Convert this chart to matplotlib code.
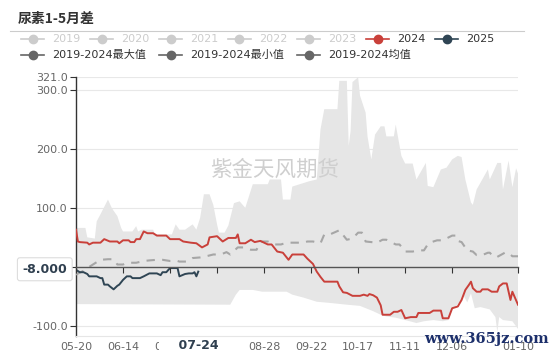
import matplotlib

matplotlib.use("Agg")
import matplotlib.pyplot as plt
import numpy as np
from matplotlib.lines import Line2D

plt.rcParams["font.family"] = ["DejaVu Sans", "Noto Sans CJK SC"]

W, H = 550, 355

# days counted from 05-20
tick_days = [0, 25, 50, 75, 100, 125, 150, 175, 200, 235]
tick_labels = ["05-20", "06-14", "07-09", "08-03", "08-28", "09-22", "10-17", "11-11", "12-06", "01-10"]
y_ticks = [-100, 0, 100, 200, 300, 321]

max_days = [0, 5, 6, 10, 11, 13, 17, 19, 20, 22, 24, 25, 30, 32, 33, 35, 41, 42, 51, 53, 55, 58, 62, 64,
            66, 68, 71, 73, 75, 76, 79, 81, 84, 87, 90, 94, 102, 103, 109, 110, 114, 115, 119, 124, 128,
            130, 132, 139, 140, 144, 145, 146, 147, 150, 151, 154, 155, 157, 159, 162, 164, 165, 169,
            170, 173, 175, 179, 181, 186, 187, 190, 194, 197, 200, 203, 205, 207, 210, 211, 213, 219,
            220, 224, 226, 227, 230, 232, 234, 235]
max_vals = [66, 66, 50, 48, 77, 89, 114, 100, 95, 86, 66, 60, 60, 69, 60, 63, 63, 55, 55, 72, 63, 63, 72, 63,
            83, 123, 123, 105, 72, 58, 58, 70, 108, 111, 100, 140, 140, 148, 148, 114, 114, 136, 140, 145, 148,
            233, 267, 267, 315, 315, 205, 230, 313, 321, 290, 261, 221, 182, 224, 238, 238, 221, 221,
            241, 188, 175, 175, 148, 176, 137, 135, 165, 168, 182, 188, 186, 148, 109, 105, 131, 165,
            148, 176, 176, 131, 180, 135, 167, 158]

min_days = [0, 82, 85, 87, 94, 99, 105, 107, 112, 115, 121, 128, 135, 144, 151, 158, 162, 165, 170, 175,
            181, 185, 190, 195, 198, 200, 204, 206, 208, 210, 212, 215, 220, 223, 224, 225, 227, 232, 235]
min_vals = [-63, -64, -47, -39, -39, -42, -42, -42, -42, -47, -52, -59, -61, -64, -66, -75, -81, -84, -86, -90,
            -95, -92, -90, -92, -90, -72, -60, -48, -60, -45, -70, -68, -72, -85, -110, -85, -90, -92, -105]

avg_days = [0, 5, 7, 11, 13, 17, 20, 22, 25, 27, 32, 36, 39, 43, 46, 50, 54, 55, 59, 62, 66, 68, 73, 77,
            80, 82, 86, 89, 93, 96, 98, 102, 105, 109, 112, 118, 121, 123, 126, 130, 132, 135, 140, 144,
            147, 150, 152, 154, 157, 160, 163, 165, 170, 172, 175, 179, 182, 185, 187, 188, 192, 195,
            200, 202, 203, 205, 208, 211, 213, 216, 219, 220, 222, 224, 228, 230, 232, 235]
avg_vals = [-13, -5, 0, 8, 12, 13, 13, 4, 4, 7, 7, 10, 11, 12, 12, 10, 10, 9, 9, 15, 16, 17, 21, 21,
            25, 21, 33, 33, 29, 29, 43, 43, 38, 38, 41, 41, 41, 43, 43, 40, 55, 55, 62, 46,
            48, 58, 58, 43, 42, 41, 46, 46, 38, 38, 26, 26, 28, 28, 38, 41, 45, 45,
            53, 53, 44, 42, 28, 26, 20, 20, 24, 24, 17, 17, 24, 24, 18, 18]

days_2024 = [0, 1, 2, 6, 7, 9, 13, 15, 18, 22, 23, 25, 28, 29, 31, 32, 34, 36, 38, 41, 43, 48, 50, 55,
             57, 61, 64, 67, 70, 71, 75, 78, 81, 85, 86, 87, 90, 93, 95, 98, 102, 104, 107, 110, 113,
             115, 121, 123, 126, 128, 130, 132, 139, 140, 142, 144, 147, 151, 153, 155, 156, 158, 160,
             162, 163, 167, 169, 171, 173, 175, 178, 181, 182, 188, 190, 194, 195, 198, 200, 203, 205,
             207, 209, 210, 211, 213, 215, 216, 219, 221, 224, 225, 227, 229, 231, 232, 235]
vals_2024 = [63, 43, 42, 41, 38, 41, 41, 47, 43, 43, 40, 45, 45, 42, 42, 47, 47, 60, 57, 57, 53, 53, 47, 47,
             43, 41, 40, 33, 38, 50, 52, 43, 49, 49, 55, 40, 40, 46, 42, 44, 38, 38, 26, 24, 12,
             21, 21, 14, 5, -8, -17, -25, -25, -33, -43, -44, -49, -49, -47, -49, -46, -48, -52,
             -65, -81, -81, -76, -76, -73, -87, -85, -85, -78, -78, -74, -74, -87, -87, -70, -67, -56,
             -39, -30, -25, -36, -42, -42, -38, -38, -42, -42, -33, -28, -28, -56, -42, -64]

days_2025 = [0, 2, 4, 6, 7, 11, 13, 14, 15, 17, 18, 20, 22, 23, 25, 27, 29, 30, 32, 34, 36, 39, 43, 45,
             46, 48, 50, 54, 55, 58, 60, 62, 63, 64, 65]
vals_2025 = [-5, -9, -9, -12, -16, -16, -19, -19, -30, -30, -33, -38, -32, -30, -22, -16, -16, -19, -19, -19,
             -16, -11, -11, -14, -9, -9, -2, -2, -16, -12, -11, -11, -9, -16, -8]

RED = "#c9403a"
NAVY = "#2f4554"
BAND = "#e6e6e6"

fig = plt.figure(figsize=(W / 100, H / 100), dpi=100)
ax = fig.add_axes([76 / W, 1 - 336 / H, 442 / W, (336 - 77.3) / H])

ax.fill(np.r_[max_days, min_days[::-1]], np.r_[max_vals, min_vals[::-1]],
        color=BAND, lw=0, zorder=1)
ax.plot(avg_days, avg_vals, color="#a6a6a6", lw=1.5, dashes=(4, 3.5), zorder=3)
ax.plot(days_2024, vals_2024, color=RED, lw=1.4, zorder=4)
ax.plot(days_2025, vals_2025, color=NAVY, lw=1.4, zorder=5)

ax.set_xlim(0, 235)
ax.set_ylim(-117, 321)
ax.set_yticks(y_ticks)
ax.set_yticklabels([f"{v:.1f}" for v in y_ticks])
ax.grid(axis="y", color="#e8e8e8", lw=0.8, zorder=0)
ax.set_axisbelow(True)
ax.tick_params(axis="y", length=4, width=0.8, color="#333333", labelcolor="#666666",
               labelsize=8, pad=2)
ax.set_xticks(tick_days)
ax.set_xticklabels(tick_labels)
ax.tick_params(axis="x", length=0, labelcolor="#666666", labelsize=8, pad=4)
for s in ["top", "right"]:
    ax.spines[s].set_visible(False)
ax.spines["left"].set_color("#333333")
ax.spines["left"].set_linewidth(1)
ax.spines["bottom"].set_color("#e6e6e6")

# x axis line sitting on zero
zax = ax.twiny()
zax.set_xlim(ax.get_xlim())
zax.patch.set_visible(False)
for s in ["top", "right", "left"]:
    zax.spines[s].set_visible(False)
zax.spines["bottom"].set_position(("data", 0))
zax.spines["bottom"].set_color("#555555")
zax.spines["bottom"].set_linewidth(1)
zax.xaxis.set_ticks_position("bottom")
zax.set_xticks(tick_days)
zax.tick_params(axis="x", length=4, width=0.8, color="#333333", labelbottom=False,
                labeltop=False, direction="out")

# axis pointer labels
ax.text(65, -0.036, "    07-24    ", transform=ax.get_xaxis_transform(), ha="center",
        va="center", fontsize=9, weight="bold", color="#2f3f4f", zorder=10, clip_on=False,
        bbox=dict(boxstyle="square,pad=0.1", fc="white", ec="none"))
zax.text(-0.02, -4, "-8.000", transform=ax.get_yaxis_transform(), ha="right", va="center",
         fontsize=9, weight="bold", color="#2f3f4f", zorder=10, clip_on=False,
         bbox=dict(boxstyle="round,pad=0.4,rounding_size=0.2", fc="white", ec="#dddddd", lw=0.8))

ax.text(0.45, 0.642, "紫金天风期货", transform=ax.transAxes, ha="center", va="center",
        fontsize=15.5, color="#cfcfcf", family=["Noto Sans CJK SC"], zorder=6)

# title and legend
fig.text(18 / W, 1 - 19 / H, "尿素1-5月差", fontsize=10, weight="bold", color="#333333",
         va="center", family=["Noto Sans CJK SC"])
fig.add_artist(Line2D([10 / W, 524 / W], [1 - 31 / H] * 2, color="#cccccc", lw=0.8))

legend_rows = [
    [("2019", "#cccccc", "#cccccc"), ("2020", "#cccccc", "#cccccc"), ("2021", "#cccccc", "#cccccc"),
     ("2022", "#cccccc", "#cccccc"), ("2023", "#cccccc", "#cccccc"), ("2024", RED, "#333333"),
     ("2025", NAVY, "#333333")],
    [("2019-2024最大值", "#666666", "#333333"), ("2019-2024最小值", "#666666", "#333333"),
     ("2019-2024均值", "#666666", "#333333")],
]
for row, (y, step) in enumerate([(39, 69), (55, 138)]):
    for i, (name, c, tc) in enumerate(legend_rows[row]):
        x0 = 21 + i * step
        fig.add_artist(Line2D([x0 / W, (x0 + 23) / W], [1 - y / H] * 2, color=c, lw=1.2))
        fig.add_artist(Line2D([(x0 + 11.5) / W], [1 - y / H], color=c, marker="o",
                              markersize=6, lw=0))
        fig.text((x0 + 31) / W, 1 - y / H, name, fontsize=8, color=tc, va="center")

fig.text(486 / W, 1 - 339 / H, "www.365jz.com", fontsize=10.5, color="#1c2f6b", ha="center",
         va="center", family=["DejaVu Serif"], weight="bold")

fig.savefig("out.png", dpi=100)
